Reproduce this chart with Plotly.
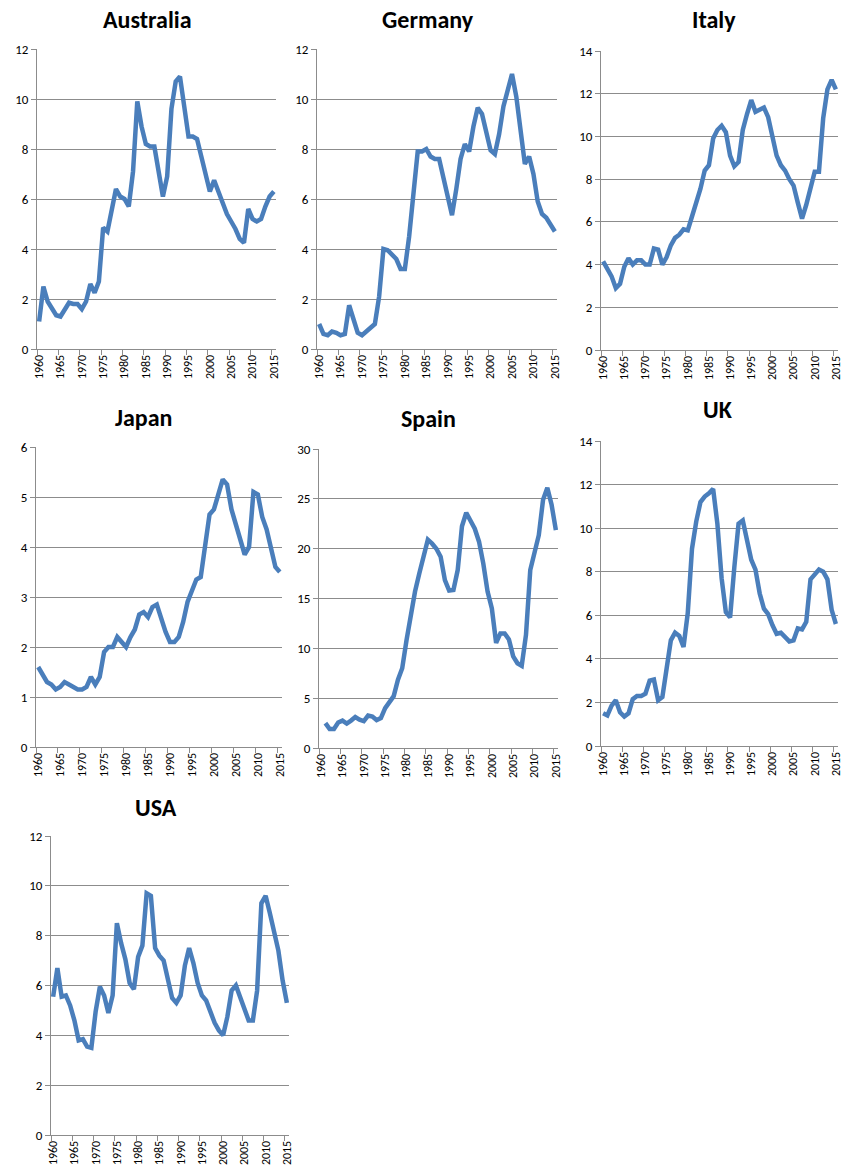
import plotly.graph_objects as go

years = list(range(1960, 2016))
years_spain = list(range(1961, 2016))

australia = [1.1, 2.5, 1.9, 1.6, 1.35, 1.3, 1.6, 1.85, 1.8, 1.8, 1.6, 1.9, 2.6, 2.25, 2.7,
             4.85, 4.7, 5.6, 6.4, 6.1, 6.0, 5.7, 7.1, 9.9, 8.9, 8.2, 8.1, 8.1, 7.2, 6.1,
             6.9, 9.6, 10.7, 10.9, 9.7, 8.5, 8.5, 8.4, 7.7, 6.9, 6.3, 6.75, 6.3, 5.9, 5.4,
             5.1, 4.8, 4.4, 4.25, 5.6, 5.2, 5.1, 5.2, 5.7, 6.1, 6.3]
germany = [1.0, 0.6, 0.55, 0.7, 0.65, 0.55, 0.6, 1.75, 1.2, 0.65, 0.55, 0.7, 0.9, 1.0, 2.1,
           4.0, 3.95, 3.8, 3.6, 3.2, 3.2, 4.5, 6.35, 7.9, 7.9, 8.0, 7.7, 7.6, 7.6, 6.9,
           6.2, 5.35, 6.4, 7.6, 8.2, 7.9, 8.9, 9.65, 9.4, 8.6, 7.95, 7.8, 8.6, 9.7, 10.35,
           11.0, 10.1, 8.7, 7.4, 7.7, 7.0, 5.9, 5.4, 5.25, 5.0, 4.7]
italy = [4.15, 3.8, 3.45, 2.9, 3.1, 3.9, 4.3, 4.0, 4.2, 4.2, 4.0, 4.0, 4.75, 4.7, 4.0,
         4.35, 4.9, 5.25, 5.4, 5.65, 5.6, 6.25, 6.85, 7.55, 8.4, 8.65, 9.9, 10.3, 10.5, 10.2,
         9.1, 8.6, 8.8, 10.3, 11.05, 11.7, 11.15, 11.25, 11.35, 10.9, 10.1, 9.1, 8.65, 8.4, 8.0,
         7.7, 6.9, 6.15, 6.8, 7.65, 8.35, 8.35, 10.85, 12.2, 12.65, 12.2]
japan = [1.6, 1.45, 1.3, 1.25, 1.15, 1.2, 1.3, 1.25, 1.2, 1.15, 1.15, 1.2, 1.4, 1.25, 1.4,
         1.9, 2.0, 2.0, 2.2, 2.1, 2.0, 2.2, 2.35, 2.65, 2.7, 2.6, 2.8, 2.85, 2.55, 2.3,
         2.1, 2.1, 2.2, 2.5, 2.9, 3.15, 3.35, 3.4, 4.1, 4.65, 4.75, 5.05, 5.35, 5.25, 4.75,
         4.45, 4.15, 3.85, 4.0, 5.1, 5.05, 4.6, 4.35, 4.0, 3.6, 3.5]
spain = [2.5, 1.9, 1.9, 2.55, 2.75, 2.45, 2.75, 3.1, 2.85, 2.7, 3.25, 3.15, 2.8, 3.0,
         4.0, 4.65, 5.2, 6.85, 8.0, 10.8, 13.5, 15.7, 17.5, 19.35, 20.9, 20.5, 20.0, 19.2, 16.85,
         15.8, 15.85, 17.85, 22.25, 23.6, 22.7, 22.0, 20.7, 18.5, 15.7, 14.0, 10.55, 11.5, 11.5, 10.9,
         9.2, 8.5, 8.25, 11.35, 17.85, 19.7, 21.35, 24.9, 26.1, 24.4, 21.85]
uk = [1.5, 1.4, 1.85, 2.1, 1.55, 1.35, 1.5, 2.15, 2.3, 2.3, 2.4, 3.0, 3.05, 2.1, 2.25,
      3.6, 4.85, 5.2, 5.05, 4.55, 6.1, 9.05, 10.3, 11.2, 11.45, 11.6, 11.8, 10.2, 7.7, 6.15,
      5.9, 8.2, 10.2, 10.35, 9.45, 8.55, 8.1, 7.0, 6.3, 6.05, 5.55, 5.15, 5.2, 5.0, 4.8,
      4.85, 5.4, 5.35, 5.7, 7.65, 7.9, 8.1, 8.0, 7.65, 6.25, 5.6]
usa = [5.55, 6.7, 5.55, 5.6, 5.2, 4.6, 3.8, 3.85, 3.55, 3.5, 4.95, 5.95, 5.6, 4.9, 5.6,
       8.5, 7.7, 7.05, 6.1, 5.85, 7.15, 7.6, 9.7, 9.6, 7.5, 7.2, 7.0, 6.2, 5.5, 5.3,
       5.6, 6.8, 7.5, 6.9, 6.1, 5.6, 5.4, 4.95, 4.5, 4.2, 4.0, 4.75, 5.8, 6.0, 5.55,
       5.1, 4.6, 4.6, 5.8, 9.3, 9.6, 8.9, 8.1, 7.4, 6.2, 5.3]

titles = ["Australia", "Germany", "Italy", "Japan", "Spain", "UK", "USA"]
series = [(years, australia), (years, germany), (years, italy), (years, japan),
          (years_spain, spain), (years, uk), (years, usa)]
y_max = [12, 12, 14, 6, 30, 14, 12]
y_step = [2, 2, 2, 1, 5, 2, 2]
tick_years = list(range(1960, 2016, 5))

W, H = 842, 1173
# plot-area boxes in pixels: (left, right, top, bottom)
boxes = [(37, 276, 49, 349), (317, 557, 49, 349), (601, 838, 51, 350),
         (36, 282, 447, 747), (319, 558, 449, 748), (601, 838, 441, 746),
         (51, 289, 836, 1135)]
title_pos = [(147, 20), (428, 20), (714, 20), (143, 417), (428, 418), (718, 410), (156, 807)]

FONT = "Carlito, Lato, 'Liberation Sans', sans-serif"
GRID = "#8c8c8c"
LINE = "#4a7ebb"

fig = go.Figure()
layout = dict(template="none", width=W, height=H, margin=dict(l=0, r=0, t=0, b=0, pad=0),
              autosize=False,
              paper_bgcolor="white", plot_bgcolor="white", showlegend=False,
              font=dict(family=FONT, color="#000000"))
annotations = []
for i, (t, (xs, ys)) in enumerate(zip(titles, series)):
    n = i + 1
    xa = "x" if n == 1 else f"x{n}"
    ya = "y" if n == 1 else f"y{n}"
    fig.add_trace(go.Scatter(x=xs, y=ys, mode="lines", xaxis=xa, yaxis=ya,
                             line=dict(color=LINE, width=4.5), hoverinfo="skip"))
    l, r, tp, bt = boxes[i]
    xkey = "xaxis" if n == 1 else f"xaxis{n}"
    ykey = "yaxis" if n == 1 else f"yaxis{n}"
    layout[xkey] = dict(domain=[l / W, r / W], anchor=ya, range=[1959.5, 2015.5],
                        automargin=False, ticklabeloverflow="allow",
                        tickmode="array", tickvals=tick_years,
                        ticktext=[str(v) for v in tick_years], tickangle=-90,
                        ticks="", showgrid=False, zeroline=False,
                        showline=True, linecolor=GRID, linewidth=1,
                        tickfont=dict(size=12, family=FONT, color="#000000"),
                        minor=dict(tickmode="linear", tick0=1959.5, dtick=5,
                                   ticks="outside", ticklen=5, tickcolor=GRID, showgrid=False))
    layout[ykey] = dict(domain=[1 - bt / H, 1 - tp / H], anchor=xa,
                        automargin=False,
                        range=[0, y_max[i]], tickmode="linear", tick0=0, dtick=y_step[i],
                        showgrid=True, gridcolor=GRID, gridwidth=1, zeroline=False,
                        showline=True, linecolor=GRID, linewidth=1,
                        ticks="outside", ticklen=5, tickcolor=GRID,
                        tickfont=dict(size=13, family=FONT, color="#000000"))
    cx, cy = title_pos[i]
    annotations.append(dict(text=f"<b>{t}</b>", x=cx / W, y=1 - cy / H, xref="paper", yref="paper",
                            xanchor="center", yanchor="middle", showarrow=False,
                            font=dict(size=24, family=FONT, color="#000000")))
layout["annotations"] = annotations
fig.update_layout(**layout)
fig.write_html("out.html", config={"displayModeBar": False, "staticPlot": True},
               post_script="document.body.style.margin='0';document.body.style.padding='0';"
                           "document.documentElement.style.overflow='hidden';")
